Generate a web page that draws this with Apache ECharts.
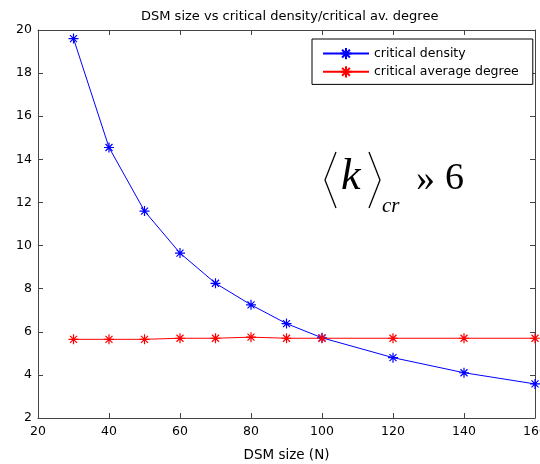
<!DOCTYPE html>
<html>
<head>
<meta charset="utf-8">
<script src="https://cdn.jsdelivr.net/npm/echarts@6/dist/echarts.min.js"></script>
<style>
html, body { margin: 0; padding: 0; background: #fff; }
#main { width: 540px; height: 464px; }
</style>
</head>
<body>
<div id="main"></div>
<script>
// DSM size vs critical density / critical average degree
var dsmSize = [30, 40, 50, 60, 70, 80, 90, 100, 120, 140, 160];
var critDensity = [19.6, 14.55, 11.6, 9.65, 8.25, 7.25, 6.38, 5.72, 4.8, 4.1, 3.58];
var critAvgDegree = [5.65, 5.65, 5.65, 5.7, 5.7, 5.75, 5.7, 5.7, 5.7, 5.7, 5.7];
var xTicks = [20, 160, 20]; // min, max, step
var yTicks = [2, 20, 2];

var star = 'path://M5,0L5,10M0,5L10,5M1.5,1.5L8.5,8.5M1.5,8.5L8.5,1.5';
var font = 'DejaVu Sans, sans-serif';

function pairs(xs, ys) {
	var out = [];
	for (var i = 0; i < xs.length; i++) {
		out.push([xs[i], ys[i]]);
	}
	return out;
}

var myChart = echarts.init(document.getElementById('main'));

var axisCommon = {
	axisLine: { show: true, onZero: false, lineStyle: { color: '#444', width: 1 } },
	axisTick: { show: true, inside: true, length: 5, lineStyle: { color: '#444' } },
	splitLine: { show: false }
};

var option = {
	backgroundColor: '#fff',
	animation: false,
	title: {
		text: 'DSM size vs critical density/critical av. degree',
		left: 136,
		top: 5,
		textStyle: { fontFamily: font, fontSize: 13, fontWeight: 'normal', color: '#000' }
	},
	grid: { left: 38, right: 5, top: 30, bottom: 46, outerBoundsMode: 'none' },
	legend: {
		orient: 'vertical',
		left: 312,
		top: 39,
		padding: [8, 14, 6, 10],
		itemWidth: 46,
		itemHeight: 14,
		itemGap: 5,
		backgroundColor: '#fff',
		borderColor: '#000',
		borderWidth: 1,
		borderRadius: 0,
		textStyle: { fontFamily: font, fontSize: 12.5, color: '#000' },
		data: ['critical density', 'critical average degree']
	},
	xAxis: [
		Object.assign({
			type: 'value', min: xTicks[0], max: xTicks[1], interval: xTicks[2],
			name: 'DSM size (N)', nameLocation: 'middle', nameGap: 30,
			nameTextStyle: { fontFamily: font, fontSize: 13.5, color: '#000' },
			axisLabel: { fontFamily: font, fontSize: 12.5, color: '#000', margin: 7 }
		}, axisCommon),
		Object.assign({
			type: 'value', min: xTicks[0], max: xTicks[1], interval: xTicks[2],
			position: 'top', axisLabel: { show: false }
		}, axisCommon)
	],
	yAxis: [
		Object.assign({
			type: 'value', min: yTicks[0], max: yTicks[1], interval: yTicks[2],
			axisLabel: { fontFamily: font, fontSize: 12.5, color: '#000', margin: 6 }
		}, axisCommon),
		Object.assign({
			type: 'value', min: yTicks[0], max: yTicks[1], interval: yTicks[2],
			position: 'right', axisLabel: { show: false }
		}, axisCommon)
	],
	series: [
		{
			name: 'critical density',
			type: 'line',
			data: pairs(dsmSize, critDensity),
			symbol: star,
			symbolSize: 10,
			showAllSymbol: true,
			lineStyle: { color: '#0000ff', width: 1 },
			itemStyle: { color: '#0000ff', borderColor: '#0000ff', borderWidth: 1.2 }
		},
		{
			name: 'critical average degree',
			type: 'line',
			data: pairs(dsmSize, critAvgDegree),
			symbol: star,
			symbolSize: 10,
			showAllSymbol: true,
			lineStyle: { color: '#ff0000', width: 1 },
			itemStyle: { color: '#ff0000', borderColor: '#ff0000', borderWidth: 1.2 }
		}
	],
	graphic: [
		{ type: 'polyline', shape: { points: [[336, 152], [325, 180], [336, 208]] },
			style: { stroke: '#000', lineWidth: 1.3, fill: null } },
		{ type: 'polyline', shape: { points: [[369, 152], [380, 180], [369, 208]] },
			style: { stroke: '#000', lineWidth: 1.3, fill: null } },
		{ type: 'text', x: 341, y: 177,
			style: { text: 'k', font: 'italic 44px "Liberation Serif", serif', fill: '#000', verticalAlign: 'middle' } },
		{ type: 'text', x: 382, y: 206,
			style: { text: 'cr', font: 'italic 21px "Liberation Serif", serif', fill: '#000', verticalAlign: 'middle' } },
		{ type: 'text', x: 416, y: 180,
			style: { text: '\u00bb', font: '38px "Liberation Serif", serif', fill: '#000', verticalAlign: 'middle' } },
		{ type: 'text', x: 445, y: 179,
			style: { text: '6', font: '38px "Liberation Serif", serif', fill: '#000', verticalAlign: 'middle' } }
	]
};

myChart.setOption(option);
</script>
</body>
</html>
